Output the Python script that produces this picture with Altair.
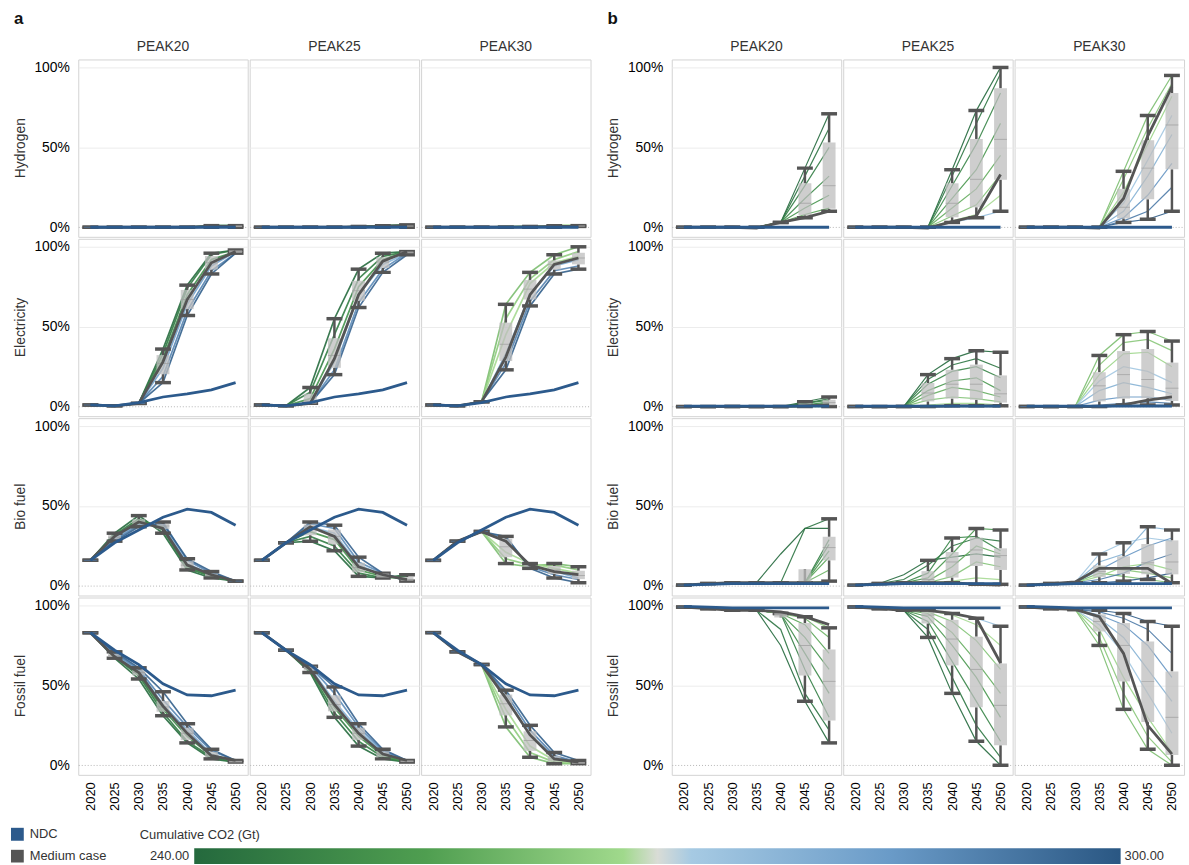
import altair as alt
import pandas as pd

YEARS = [2020, 2025, 2030, 2035, 2040, 2045, 2050]
SECTORS = ["Hydrogen", "Electricity", "Bio fuel", "Fossil fuel"]
PEAKS = ["PEAK20", "PEAK25", "PEAK30"]

# cumulative CO2 (Gt) of each scenario line, per peak
co2_a = [[241, 245, 250, 283, 290, 298],
         [241, 246, 252, 278, 288, 297],
         [262, 265, 268, 282, 290, 298]]
co2_b = [[240, 243, 246, 249, 252, 256, 260, 265],
         [240, 244, 248, 253, 258, 263, 268, 276],
         [262, 264, 267, 273, 279, 286, 292, 299]]

# ---------------- panel a : scenario shares (%) ----------------
a_hydrogen = [
    [[0, 0, 0, 0, 0, 1, 1], [0, 0, 0, 0, 0, 1, 1], [0, 0, 0, 0, 0, 0.5, 1],
     [0, 0, 0, 0, 0, 0, 0.5], [0, 0, 0, 0, 0, 0, 0], [0, 0, 0, 0, 0, 0, 0]],
    [[0, 0, 0, 0, 0.5, 1, 1.5], [0, 0, 0, 0, 0.5, 1, 1], [0, 0, 0, 0, 0, 0.5, 1],
     [0, 0, 0, 0, 0, 0.5, 0.5], [0, 0, 0, 0, 0, 0, 0.5], [0, 0, 0, 0, 0, 0, 0]],
    [[0, 0, 0, 0, 0.5, 1, 1], [0, 0, 0, 0.5, 0.5, 1, 1], [0, 0, 0, 0, 0.5, 1, 1],
     [0, 0, 0, 0, 0, 0.5, 0.5], [0, 0, 0, 0, 0, 0, 0.5], [0, 0, 0, 0, 0, 0, 0.5]],
]
a_electricity = [
    [[1, 0.5, 2, 36, 76, 96, 98], [1, 0.5, 2, 33, 74, 95, 98], [1, 0.5, 2, 30, 70, 92, 97],
     [1, 0.5, 2, 24, 64, 88, 97], [1, 0.5, 2, 19, 60, 85, 96], [1, 0.5, 2, 15, 57, 83, 96]],
    [[1, 0.5, 12, 55, 86, 96, 97], [1, 0.5, 9, 45, 80, 94, 97], [1, 0.5, 5, 36, 75, 92, 97],
     [1, 0.5, 2, 28, 70, 89, 96], [1, 0.5, 2, 23, 65, 86, 96], [1, 0.5, 2, 20, 62, 84, 95]],
    [[1, 0.5, 3, 64, 84, 95, 100], [1, 0.5, 3, 55, 80, 92, 97], [1, 0.5, 3, 45, 77, 90, 94],
     [1, 0.5, 3, 33, 70, 88, 92], [1, 0.5, 3, 27, 66, 85, 88], [1, 0.5, 3, 23, 63, 83, 86]],
]
a_biofuel = [
    [[16, 33, 44, 33, 10, 5, 3], [16, 32, 42, 35, 11, 6, 3], [16, 31, 41, 37, 12, 6, 3],
     [16, 30, 39, 38, 14, 7, 3], [16, 29, 38, 40, 16, 8, 3], [16, 28, 37, 39, 17, 9, 3]],
    [[16, 27, 28, 22, 6, 5, 7], [16, 27, 31, 25, 8, 5, 6], [16, 27, 34, 29, 10, 6, 4],
     [16, 27, 37, 33, 13, 7, 4], [16, 27, 39, 36, 15, 8, 3], [16, 27, 40, 38, 18, 8, 3]],
    [[16, 28, 34, 14, 12, 14, 12], [16, 28, 34, 17, 13, 13, 10], [16, 28, 34, 21, 14, 11, 8],
     [16, 28, 34, 28, 13, 9, 5], [16, 28, 34, 30, 12, 7, 4], [16, 28, 34, 31, 11, 5, 2]],
]
a_fossil = [
    [[83, 67, 54, 31, 14, 4, 2], [83, 68, 56, 33, 15, 5, 2], [83, 68, 57, 35, 18, 6, 2],
     [83, 69, 59, 38, 22, 7, 2], [83, 70, 60, 41, 24, 9, 3], [83, 71, 61, 46, 26, 10, 3]],
    [[83, 72, 58, 30, 12, 4, 2], [83, 72, 59, 33, 15, 5, 2], [83, 72, 60, 36, 18, 6, 2],
     [83, 72, 61, 40, 22, 8, 3], [83, 72, 62, 45, 24, 9, 3], [83, 72, 62, 49, 26, 10, 3]],
    [[83, 71, 63, 24, 5, 1, 1], [83, 71, 63, 30, 8, 2, 1], [83, 71, 63, 35, 12, 3, 1],
     [83, 71, 63, 42, 19, 5, 2], [83, 71, 63, 45, 22, 6, 2], [83, 71, 63, 47, 25, 8, 3]],
]
a_medium_hydrogen = [[0, 0, 0, 0, 0, 0.5, 0.5], [0, 0, 0, 0, 0.3, 0.5, 1], [0, 0, 0, 0, 0.3, 0.5, 0.5]]
a_medium_electricity = [[1, 0.5, 2, 28, 67, 90, 97], [1, 0.5, 2, 30, 70, 91, 97], [1, 0.5, 3, 31, 70, 89, 93]]
a_medium_biofuel = [[16, 31, 40, 36, 13, 7, 3], [16, 27, 37, 31, 12, 7, 4], [16, 28, 34, 28, 13, 9, 7]]
a_medium_fossil = [[83, 68, 58, 37, 20, 6, 3], [83, 72, 60, 38, 20, 7, 3], [83, 71, 63, 42, 19, 4, 2]]
a_ndc_hydrogen = [0, 0, 0, 0, 0, 0, 0]
a_ndc_electricity = [1, 0.5, 2.5, 6, 8, 10.5, 15]
a_ndc_biofuel = [16, 27, 35, 43, 48, 46, 38]
a_ndc_fossil = [83, 72, 63, 51, 44, 43.5, 47]

# ---------------- panel b : scenario shares (%) ----------------
b_hydrogen = [
    [[0, 0, 0, 0, 3, 37, 71], [0, 0, 0, 0, 3, 32, 62], [0, 0, 0, 0, 3, 26, 50], [0, 0, 0, 0, 3, 18, 32],
     [0, 0, 0, 0, 3, 12, 20], [0, 0, 0, 0, 3, 8, 12], [0, 0, 0, 0, 3, 6, 10], [0, 0, 0, 0, 3, 6, 10]],
    [[0, 0, 0, 0, 36, 73, 100], [0, 0, 0, 0, 32, 65, 96], [0, 0, 0, 0, 26, 52, 84], [0, 0, 0, 0, 18, 36, 65],
     [0, 0, 0, 0, 12, 24, 45], [0, 0, 0, 0, 7, 14, 33], [0, 0, 0, 0, 4, 8, 20], [0, 0, 0, 0, 3, 6, 10]],
    [[0, 0, 0, 0, 35, 70, 95], [0, 0, 0, 0, 30, 62, 90], [0, 0, 0, 0, 22, 52, 82], [0, 0, 0, 0, 15, 42, 70],
     [0, 0, 0, 0, 10, 32, 58], [0, 0, 0, 0, 6, 20, 40], [0, 0, 0, 0, 4, 10, 25], [0, 0, 0, 0, 3, 5, 10]],
]
b_electricity = [
    [[0, 0, 0, 0, 0, 3, 6], [0, 0, 0, 0, 0, 2, 5], [0, 0, 0, 0, 0, 2, 4], [0, 0, 0, 0, 0, 1, 3],
     [0, 0, 0, 0, 0, 1, 2], [0, 0, 0, 0, 0, 0.5, 1], [0, 0, 0, 0, 0, 0, 0.5], [0, 0, 0, 0, 0, 0, 0]],
    [[0, 0, 0, 20, 30, 35, 34], [0, 0, 0, 17, 26, 30, 24], [0, 0, 0, 14, 22, 25, 18], [0, 0, 0, 10, 16, 18, 10],
     [0, 0, 0, 7, 12, 10, 6], [0, 0, 0, 4, 6, 5, 3], [0, 0, 0, 1, 2, 2, 1], [0, 0, 0, 0, 0.5, 0.5, 0.5]],
    [[0, 0, 0, 32, 45, 47, 41], [0, 0, 0, 26, 40, 42, 35], [0, 0, 0, 20, 33, 34, 25], [0, 0, 0, 16, 25, 22, 15],
     [0, 0, 0, 10, 15, 12, 8], [0, 0, 0, 4, 6, 6, 4], [0, 0, 0, 1, 2, 3, 2], [0, 0, 0, 0, 1, 1, 1]],
]
b_biofuel = [
    [[0.5, 1.5, 2, 2, 20, 36, 36], [0.5, 1.5, 2, 2, 2, 36, 42], [0.5, 1.5, 2, 2, 2, 2, 29], [0.5, 1.5, 2, 2, 2, 2, 26],
     [0.5, 1.5, 2, 2, 2, 2, 22], [0.5, 1.5, 2, 2, 2, 2, 18], [0.5, 1.5, 2, 2, 2, 2, 10], [0.5, 1.5, 2, 2, 2, 2, 3]],
    [[0.5, 1.5, 7, 16, 18, 20, 18], [0.5, 1.5, 4, 13, 25, 30, 28], [0.5, 1.5, 2, 8, 30, 31, 22], [0.5, 1.5, 2, 5, 20, 36, 35],
     [0.5, 1.5, 2, 3, 12, 25, 20], [0.5, 1.5, 2, 2, 6, 15, 12], [0.5, 1.5, 2, 2, 3, 5, 4], [0.5, 1.5, 2, 2, 2, 1, 1]],
    [[0.5, 1.5, 2, 8, 6, 4, 2], [0.5, 1.5, 2, 12, 10, 8, 5], [0.5, 1.5, 2, 6, 12, 14, 10], [0.5, 1.5, 2, 20, 27, 30, 28],
     [0.5, 1.5, 2, 15, 20, 37, 35], [0.5, 1.5, 2, 10, 18, 25, 30], [0.5, 1.5, 2, 4, 8, 15, 20], [0.5, 1.5, 2, 2, 3, 5, 8]],
]
b_fossil = [
    [[99, 98, 97, 97, 75, 40, 14], [99, 98, 97, 97, 85, 45, 22], [99, 98, 97, 97, 95, 60, 30], [99, 98, 97, 97, 95, 70, 45],
     [99, 98, 97, 97, 95, 80, 60], [99, 98, 97, 97, 95, 88, 70], [99, 98, 97, 97, 95, 92, 80], [99, 98, 97, 97, 95, 93, 86]],
    [[99, 98, 97, 80, 45, 15, 0], [99, 98, 97, 85, 55, 25, 5], [99, 98, 97, 90, 65, 40, 15], [99, 98, 97, 93, 75, 55, 30],
     [99, 98, 97, 95, 83, 65, 45], [99, 98, 97, 96, 90, 78, 60], [99, 98, 97, 97, 94, 88, 75], [99, 98, 97, 97, 95, 92, 87]],
    [[99, 98, 97.5, 75, 35, 10, 0], [99, 98, 97.5, 80, 45, 18, 2], [99, 98, 97.5, 85, 55, 30, 8], [99, 98, 97.5, 88, 70, 45, 20],
     [99, 98, 97.5, 92, 80, 60, 40], [99, 98, 97.5, 94, 88, 75, 55], [99, 98, 97.5, 96, 92, 85, 70], [99, 98, 97.5, 97, 95, 90, 87]],
]
b_medium_hydrogen = [[0, 0, 0, -0.5, 3, 6, 10], [0, 0, 0, -0.5, 3.5, 7, 33], [0, 0, 0, -0.5, 18, 57, 88]]
b_medium_electricity = [[0, 0, 0, 0, 0, 0.5, 1], [0, 0, 0, 0, 0.5, 0.5, 0.5], [0, 0, 0, 0, 1, 4, 6]]
b_medium_biofuel = [[0.5, 1.5, 2, 2, 2, 2, 2], [0.5, 1.5, 2, 2, 2, 1, 0.5], [0.5, 1.5, 2.5, 11, 11, 11, 1.5]]
b_medium_fossil = [[99, 98, 97, 97, 96, 93, 88], [99, 98, 97, 97, 95, 92, 64], [99, 98, 97.5, 93, 70, 25, 7]]
b_ndc_hydrogen = [0, 0, 0, 0, 0, 0, 0]
b_ndc_electricity = [0.3, 0.3, 0.3, 0.3, 0.3, 0.3, 0.3]
b_ndc_biofuel = [0.5, 1, 1.5, 1.5, 1.5, 1.5, 1.5]
b_ndc_fossil = [99.5, 99, 98.5, 98.5, 98.5, 98.5, 98.5]

# colours
CO2_DOMAIN = [240, 255, 267.8, 270, 272.2, 285, 300]
CO2_RANGE = ["#24693d", "#4f9e50", "#a0d98c", "#d9dcd6", "#a6cae3", "#6a9bc8", "#2a5783"]
KIND_DOMAIN = ["NDC", "Medium case"]
KIND_RANGE = ["#2c5a8c", "#555555"]
LEGEND_ENDS = [240, 300]
LEGEND_LABELS = ["240.00", "300.00"]

GROUPS = {
    "a": (co2_a, [a_hydrogen, a_electricity, a_biofuel, a_fossil],
          [a_medium_hydrogen, a_medium_electricity, a_medium_biofuel, a_medium_fossil],
          [a_ndc_hydrogen, a_ndc_electricity, a_ndc_biofuel, a_ndc_fossil]),
    "b": (co2_b, [b_hydrogen, b_electricity, b_biofuel, b_fossil],
          [b_medium_hydrogen, b_medium_electricity, b_medium_biofuel, b_medium_fossil],
          [b_ndc_hydrogen, b_ndc_electricity, b_ndc_biofuel, b_ndc_fossil]),
}


def build_frame(g):
    co2s, scen, med, ndc = GROUPS[g]
    rows = []
    for si, sector in enumerate(SECTORS):
        for pi, peak in enumerate(PEAKS):
            for k, (c, vals) in enumerate(zip(co2s[pi], scen[si][pi])):
                for yr, v in zip(YEARS, vals):
                    rows.append(dict(sector=sector, peak=peak, kind="scen", series=f"s{k}",
                                     co2=c, year=yr, value=v / 100))
            for yr, v in zip(YEARS, med[si][pi]):
                rows.append(dict(sector=sector, peak=peak, kind="Medium case", series="med",
                                 co2=None, year=yr, value=v / 100))
            for yr, v in zip(YEARS, ndc[si]):
                rows.append(dict(sector=sector, peak=peak, kind="NDC", series="ndc",
                                 co2=None, year=yr, value=v / 100))
    return pd.DataFrame(rows)


grid_test = "datum.value === 0"
x_enc = alt.X("year:O", scale=alt.Scale(type="point", padding=0.5),
              axis=alt.Axis(title=None, labelAngle=-90, ticks=False, domain=False,
                            labelPadding=6, labelFontSize=13, labelBaseline="middle", labelAlign="right"))
y_enc = alt.Y("value:Q", scale=alt.Scale(domain=[-0.06, 1.05], nice=False, zero=False),
              axis=alt.Axis(title=None, values=[0, 0.5, 1], format=".0%", ticks=False, domain=False,
                            labelPadding=8, labelFontSize=14,
                            gridColor={"condition": {"test": grid_test, "value": "#b5b5b5"}, "value": "#ececec"},
                            gridDash={"condition": {"test": grid_test, "value": [1, 2]}, "value": []}))

color_enc = alt.Color("co2:Q", scale=alt.Scale(domain=CO2_DOMAIN, range=CO2_RANGE), legend=None)
stroke_enc = alt.Stroke("kind:N", scale=alt.Scale(domain=KIND_DOMAIN, range=KIND_RANGE),
                        legend=alt.Legend(orient="none", legendX=-68, legendY=775, title=None,
                                          symbolType="square", symbolSize=36, symbolStrokeWidth=7,
                                          clipHeight=14, labelFontSize=13, labelColor="#333",
                                          rowPadding=8, labelOffset=6, padding=0))


def make(g, line_w):
    data = build_frame(g)
    scen = alt.Chart().mark_line(strokeWidth=line_w, opacity=0.9).encode(
        x=x_enc, y=y_enc, color=color_enc, detail="series:N"
    ).transform_filter("datum.kind === 'scen'")
    box = alt.Chart().mark_boxplot(
        size=13, outliers=False,
        box={"color": "#bdbdbd", "opacity": 0.75},
        median={"color": "#9c9c9c"},
        rule={"color": "#555555", "strokeWidth": 2.5},
        ticks={"color": "#555555", "thickness": 3.5, "size": 16},
    ).encode(x=x_enc, y=y_enc).transform_filter("datum.kind === 'scen'")
    med = alt.Chart().mark_line(strokeWidth=2.8).encode(
        x=x_enc, y=y_enc, stroke=stroke_enc
    ).transform_filter("datum.kind === 'Medium case'")
    ndc = alt.Chart().mark_line(strokeWidth=2.8).encode(
        x=x_enc, y=y_enc, stroke=stroke_enc
    ).transform_filter("datum.kind === 'NDC'")
    layer = alt.layer(scen, box, med, ndc, data=data).properties(width=171, height=179)
    return layer.facet(
        row=alt.Row("sector:N", sort=SECTORS, title=None,
                    header=alt.Header(labelFontSize=14, labelColor="#333", labelPadding=6)),
        column=alt.Column("peak:N", sort=PEAKS, title=None,
                          header=alt.Header(labelFontSize=14, labelColor="#333", labelPadding=5)),
        spacing=0,
    ).properties(title=alt.TitleParams(g, anchor="start", fontSize=17, fontWeight="bold",
                                       color="#111", offset=12))


# ---- colour bar for cumulative CO2, drawn through the same colour stops ----
lo, hi = LEGEND_ENDS
stops = [alt.GradientStop(offset=(d - lo) / (hi - lo), color=c) for d, c in zip(CO2_DOMAIN, CO2_RANGE)]
bar_x = alt.Scale(domain=[232.49, 303.08], nice=False, zero=False)
bar_df = pd.DataFrame({"lo": [lo], "hi": [hi]})
lab_df = pd.DataFrame({"v": LEGEND_ENDS, "label": LEGEND_LABELS})
bar = alt.Chart(bar_df).mark_rect(
    color=alt.LinearGradient(gradient="linear", stops=stops, x1=0, x2=1, y1=0, y2=0)
).encode(x=alt.X("lo:Q", scale=bar_x, axis=None), x2="hi:Q")
lab_left = alt.Chart(lab_df).transform_filter(f"datum.v == {lo}").mark_text(
    align="right", baseline="middle", dx=-5, fontSize=13, color="#333"
).encode(x=alt.X("v:Q", scale=bar_x, axis=None), text="label:N")
lab_right = alt.Chart(lab_df).transform_filter(f"datum.v == {hi}").mark_text(
    align="left", baseline="middle", dx=4, fontSize=13, color="#333"
).encode(x=alt.X("v:Q", scale=bar_x, axis=None), text="label:N")
colorbar = alt.layer(bar, lab_left, lab_right).properties(
    width=1100, height=16,
    view=alt.ViewBackground(stroke="transparent"),
    title=alt.TitleParams("Cumulative CO2 (Gt)", anchor="start", dx=62, fontSize=13,
                          fontWeight="normal", color="#333", offset=6),
)

main = alt.hconcat(make("a", 1.7), make("b", 1.2), spacing=16)
chart = alt.vconcat(main, colorbar, spacing=18).properties(
    padding={"left": 11, "right": 4, "top": 6, "bottom": 0}
).configure(font="Liberation Sans").configure_view(stroke="#d2d2d2", strokeWidth=1)

chart.save("out.html", embed_options={"renderer": "svg", "actions": False})
